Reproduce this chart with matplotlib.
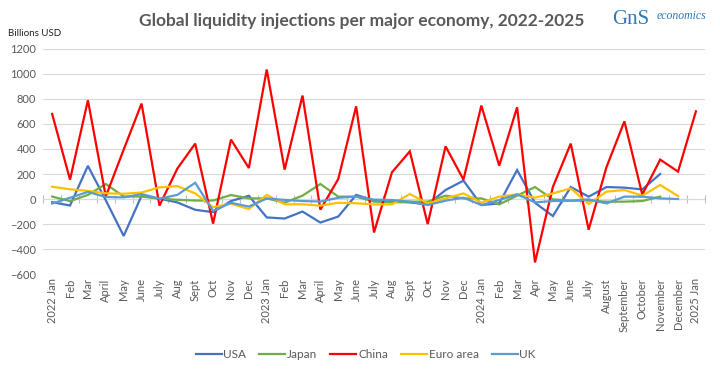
import matplotlib
matplotlib.use("Agg")
import matplotlib.pyplot as plt
from matplotlib.ticker import FixedLocator, MultipleLocator

plt.rcParams['font.family'] = ['Lato', 'DejaVu Sans']

months = ["2022 Jan", "Feb", "Mar", "April", "May", "June", "July", "Aug", "Sept", "Oct", "Nov", "Dec",
          "2023 Jan", "Feb", "Mar", "April", "May", "June", "July", "Aug", "Sept", "Oct", "Nov", "Dec",
          "2024 Jan", "Feb", "Mar", "Apr", "May", "June", "July", "August", "September", "October",
          "November", "December", "2025 Jan"]

usa = [-25, -52, 265, -10, -295, 25, 3, -27, -86, -105, -16, 26,
       -147, -156, -100, -188, -140, 33, -12, -21, -27, -43, 72, 147,
       -48, -35, 232, -30, -136, 96, 19, 96, 91, 77, 200]
japan = [20, -17, 33, 120, 20, 20, 3, -6, -12, -12, 32, 5,
         5, -29, 27, 120, 19, 19, -21, -27, -21, -21, 27, 5,
         5, -43, 27, 96, -3, -13, -13, -21, -21, -16, 19]
china = [680, 155, 789, 21, 395, 763, -53, 243, 443, -197, 475, 248,
         1035, 235, 827, -85, 160, 741, -267, 213, 381, -200, 421, 155,
         747, 267, 733, -507, 96, 443, -245, 256, 621, 35, 315, 219, 701]
euro = [98, 78, 65, 46, 42, 52, 93, 103, 45, -65, -37, -80,
        33, -42, -42, -53, -30, -34, -43, -43, 40, -35, 5, 45,
        -29, 19, 37, 11, 45, 85, -40, 59, 72, 27, 112, 24]
uk = [-36, 10, 57, 16, 13, 40, 3, 33, 130, -95, -30, -60,
      4, -7, -16, -20, 10, 20, -5, -8, -21, -48, -13, 11,
      -48, -8, 37, -27, -16, -13, -3, -35, 19, 19, 5, 0]

series = [("USA", usa, "#4472C4"), ("Japan", japan, "#70AD47"), ("China", china, "#FF0000"),
          ("Euro area", euro, "#FFC000"), ("UK", uk, "#5B9BD5")]

fig = plt.figure(figsize=(7.2, 3.76), dpi=100)
ax = fig.add_axes([0.06, 0.271, 0.919, 0.599])

for name, vals, col in series:
    ax.plot(range(len(vals)), vals, color=col, lw=1.6, label=name, solid_joinstyle='miter')

ax.set_xlim(-0.5, len(months) - 0.5)
ax.set_ylim(-600, 1200)
ax.yaxis.set_major_locator(MultipleLocator(200))
ax.grid(axis='y', color='#d9d9d9', lw=0.8)
ax.set_axisbelow(True)
for s in ax.spines.values():
    s.set_visible(False)

ax.set_xticks(range(len(months)))
ax.set_xticklabels(months, rotation=90, fontsize=8, color='#595959')
ax.tick_params(axis='x', length=0, pad=3)
ax.tick_params(axis='y', length=0, labelsize=8, labelcolor='#595959', pad=5)

# zero axis line with cross tick marks at category boundaries
sec = ax.secondary_xaxis(1/3)
sec.spines['bottom'].set_color('#bfbfbf')
sec.spines['bottom'].set_linewidth(0.8)
sec.xaxis.set_major_locator(FixedLocator([i - 0.5 for i in range(len(months) + 1)]))
sec.tick_params(axis='x', direction='inout', length=6, color='#bfbfbf', width=0.8, labelbottom=False)

leg = fig.legend(loc='center', bbox_to_anchor=(0.508, 0.056), ncol=5, frameon=False,
                 fontsize=8.5, handlelength=2.2, columnspacing=1.1, handletextpad=0.15)
for t in leg.get_texts():
    t.set_color('#595959')

fig.text(0.503, 0.945, "Global liquidity injections per major economy, 2022-2025",
         ha='center', va='center', fontsize=12.5, fontweight='bold', color='#595959')
fig.text(0.011, 0.912, "Billions USD", ha='left', va='center', fontsize=7, color='#222222')

fig.text(0.85, 0.948, "GnS", ha='left', va='center', fontsize=15, color='#2b7bb9',
         family=['Liberation Serif', 'DejaVu Serif'])
fig.text(0.912, 0.958, "economics", ha='left', va='center', fontsize=8.5, color='#2b7bb9',
         style='italic', family=['Liberation Serif', 'DejaVu Serif'])

fig.savefig("out.png", dpi=100)
